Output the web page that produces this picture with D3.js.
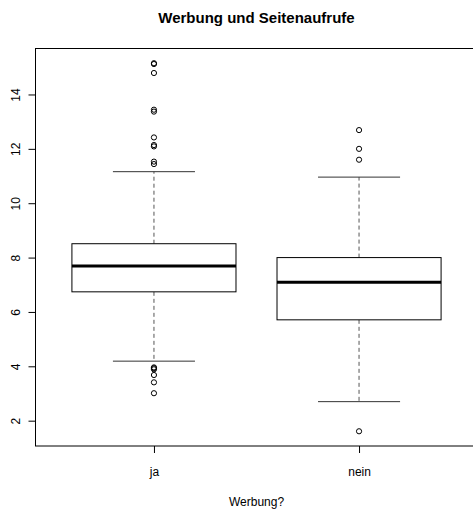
<!DOCTYPE html>
<html>
<head>
<meta charset="utf-8">
<script src="https://cdn.jsdelivr.net/npm/d3@7"></script>
<style>
  body { margin: 0; background: #fff; }
  text { font-family: "Liberation Sans", Arial, sans-serif; fill: #000; }
</style>
</head>
<body>
<div id="chart"></div>
<script>
// groups and box statistics
const groups = ["ja", "nein"];
const whiskerLow = [4.19, 2.70];
const boxLow = [6.74, 5.71];
const medians = [7.69, 7.09];
const boxHigh = [8.51, 8.00];
const whiskerHigh = [11.16, 10.96];
const outliersJa = [15.15, 15.12, 14.79, 13.44, 13.37, 12.42, 12.14, 12.09, 11.53, 11.44,
                    3.96, 3.93, 3.89, 3.68, 3.41, 3.01];
const outliersNein = [12.69, 12.00, 11.60, 1.61];
const outliers = [outliersJa, outliersNein];
const yTicks = [2, 4, 6, 8, 10, 12, 14];

const width = 473, height = 509;
const margin = {top: 48.5, left: 35, bottom: 63, right: -5};

const svg = d3.select("#chart").append("svg")
  .attr("width", width)
  .attr("height", height);

// y range like R: data range plus 4%
const allVals = [].concat(whiskerLow, whiskerHigh, outliersJa, outliersNein);
const ext = d3.extent(allVals);
const pad = (ext[1] - ext[0]) * 0.04;
const y = d3.scaleLinear()
  .domain([ext[0] - pad, ext[1] + pad])
  .range([height - margin.bottom, margin.top]);

const x = d3.scaleLinear()
  .domain([0.5 - 0.08, groups.length + 0.5 + 0.08])
  .range([margin.left, width - margin.right]);

// plot frame
svg.append("rect")
  .attr("x", margin.left + 0.5)
  .attr("y", margin.top)
  .attr("width", x.range()[1] - margin.left)
  .attr("height", y.range()[0] - margin.top)
  .attr("fill", "none")
  .attr("stroke", "#000");

// Y axis
const yAxis = svg.append("g")
  .attr("transform", `translate(${margin.left + 0.5},0)`)
  .call(d3.axisLeft(y).tickValues(yTicks).tickSize(7).tickSizeOuter(0));
yAxis.select(".domain").attr("d", `M-0,${y(2)}V${y(14)}`);
yAxis.selectAll("text")
  .attr("transform", "translate(-20,0) rotate(-90)")
  .attr("x", 0)
  .attr("y", 0)
  .attr("dy", "0.35em")
  .style("text-anchor", "middle")
  .style("font-size", "12px");

// X axis
const xAxis = svg.append("g")
  .attr("transform", `translate(0,${y.range()[0]})`)
  .call(d3.axisBottom(x).tickValues([1, 2]).tickFormat((d, i) => groups[i])
    .tickSize(7).tickPadding(14).tickSizeOuter(0));
xAxis.select(".domain").remove();
xAxis.selectAll("text").style("font-size", "12px");

const boxW = 0.4, capW = 0.2;

groups.forEach(function(g, i) {
  const c = i + 1;
  const grp = svg.append("g");
  // whiskers
  grp.append("line")
    .attr("x1", x(c)).attr("x2", x(c))
    .attr("y1", y(boxHigh[i])).attr("y2", y(whiskerHigh[i]))
    .attr("stroke", "#555").attr("stroke-dasharray", "4,3");
  grp.append("line")
    .attr("x1", x(c)).attr("x2", x(c))
    .attr("y1", y(boxLow[i])).attr("y2", y(whiskerLow[i]))
    .attr("stroke", "#555").attr("stroke-dasharray", "4,3");
  // caps
  [whiskerLow[i], whiskerHigh[i]].forEach(function(v) {
    grp.append("line")
      .attr("x1", x(c - capW)).attr("x2", x(c + capW))
      .attr("y1", y(v)).attr("y2", y(v))
      .attr("stroke", "#333");
  });
  // box
  grp.append("rect")
    .attr("x", x(c - boxW))
    .attr("y", y(boxHigh[i]))
    .attr("width", x(c + boxW) - x(c - boxW))
    .attr("height", y(boxLow[i]) - y(boxHigh[i]))
    .attr("fill", "#fff")
    .attr("stroke", "#000");
  // median
  grp.append("line")
    .attr("x1", x(c - boxW)).attr("x2", x(c + boxW))
    .attr("y1", y(medians[i])).attr("y2", y(medians[i]))
    .attr("stroke", "#000").attr("stroke-width", 3);
  // outliers
  grp.selectAll("circle")
    .data(outliers[i])
    .enter()
    .append("circle")
      .attr("cx", x(c))
      .attr("cy", d => y(d))
      .attr("r", 2.6)
      .attr("fill", "none")
      .attr("stroke", "#000")
      .attr("stroke-width", 1);
});

// title and axis label
svg.append("text")
  .attr("x", 256.5)
  .attr("y", 23)
  .attr("text-anchor", "middle")
  .style("font-size", "15px")
  .style("font-weight", "bold")
  .text("Werbung und Seitenaufrufe");

svg.append("text")
  .attr("x", 256.5)
  .attr("y", 506)
  .attr("text-anchor", "middle")
  .style("font-size", "12px")
  .text("Werbung?");
</script>
</body>
</html>
